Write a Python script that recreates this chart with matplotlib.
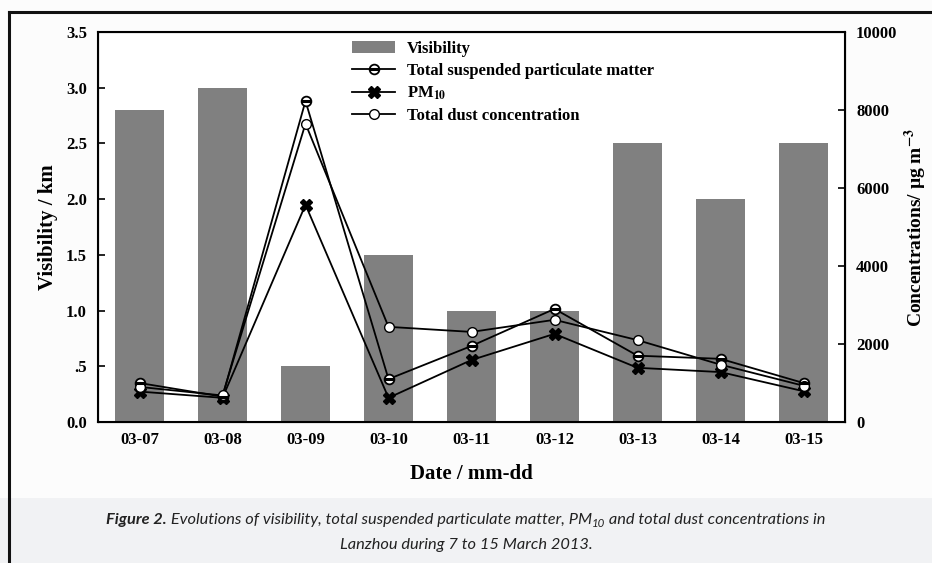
import numpy as np
import matplotlib
matplotlib.use("Agg")
import matplotlib.pyplot as plt
from matplotlib.lines import Line2D
from matplotlib.patches import Patch

# data
dates = ["03-07", "03-08", "03-09", "03-10", "03-11", "03-12", "03-13", "03-14", "03-15"]
visibility = [2.8, 3.0, 0.5, 1.5, 1.0, 1.0, 2.5, 2.0, 2.5]          # km
tsp = [1000, 650, 8230, 1100, 1950, 2900, 1700, 1620, 1000]          # ug m-3
pm10 = [780, 620, 5570, 620, 1590, 2260, 1390, 1280, 790]
dust = [900, 680, 7650, 2440, 2310, 2620, 2100, 1470, 930]

plt.rcParams['font.family'] = ['Liberation Serif', 'DejaVu Serif']
plt.rcParams['font.weight'] = 'bold'
plt.rcParams['mathtext.fontset'] = 'stix'

fig = plt.figure(figsize=(9.32, 5.63), dpi=100)
fig.patch.set_facecolor('#fcfcfc')

# caption band and frame
fig.patches.append(plt.Rectangle((0, 0), 1, 1 - 498 / 563, transform=fig.transFigure,
                                 facecolor='#f1f2f4', edgecolor='none', zorder=0))
fig.add_artist(Line2D([9 / 932, 1], [1 - 12 / 563] * 2, color='#111111', lw=2.2))
fig.add_artist(Line2D([9 / 932] * 2, [0, 1 - 12 / 563], color='#111111', lw=2.2))

ax = fig.add_axes([98 / 932, 1 - 422 / 563, 747 / 932, 390 / 563])
ax.set_facecolor('white')
x = np.arange(len(dates))
ax.bar(x, visibility, width=0.6, color='#808080', zorder=1)
ax.set_xlim(-0.5, len(dates) - 0.5)
ax.set_ylim(0, 3.5)
ax.set_yticks(np.arange(0, 3.51, 0.5))
ax.set_yticklabels(["0.0", ".5", "1.0", "1.5", "2.0", "2.5", "3.0", "3.5"])
ax.set_xticks(x)
ax.set_xticklabels(dates)
ax.tick_params(axis='x', length=0, pad=7, labelsize=12)
ax.tick_params(axis='y', direction='in', length=5, width=1.2, labelsize=12, pad=8)
ax.set_xlabel("Date / mm-dd", fontsize=15, fontweight='bold', labelpad=12)
ax.set_ylabel("Visibility / km", fontsize=15, fontweight='bold', labelpad=6)
for s in ax.spines.values():
    s.set_linewidth(1.5)

ax2 = ax.twinx()
ax2.set_ylim(0, 10000)
ax2.set_yticks(np.arange(0, 10001, 2000))
ax2.tick_params(axis='y', direction='in', length=5, width=1.2, labelsize=12, pad=8)
ax2.set_ylabel(r"Concentrations/ µg m$^{\mathbf{-3}}$", fontsize=14, fontweight='bold', labelpad=4)

lw = 1.3
ax2.plot(x, tsp, color='black', lw=lw, marker='o', ms=7, mfc='white', mec='black', mew=1.3, zorder=3)
ax2.plot(x, tsp, ls='none', marker='_', ms=7, mec='black', mew=2.2, zorder=4)
ax2.plot(x, pm10, color='black', lw=lw, marker='X', ms=8, mfc='black', mec='black', zorder=3)
ax2.plot(x, dust, color='black', lw=lw, marker='o', ms=7, mfc='white', mec='black', mew=1.0, zorder=3)

handles = [
    Patch(facecolor='#808080', edgecolor='none'),
    (Line2D([], [], color='black', lw=lw, marker='o', ms=7, mfc='white', mec='black', mew=1.3),
     Line2D([], [], ls='none', marker='_', ms=7, mec='black', mew=2.2)),
    Line2D([], [], color='black', lw=lw, marker='X', ms=8, mfc='black'),
    Line2D([], [], color='black', lw=lw, marker='o', ms=7, mfc='white', mec='black', mew=1.0),
]
labels = ["Visibility", "Total suspended particulate matter", r"PM$_{\mathbf{10}}$",
          "Total dust concentration"]
ax2.legend(handles, labels, loc='upper left', bbox_to_anchor=(0.32, 1.015), frameon=False,
           handlelength=2.6, handletextpad=0.7, labelspacing=0.35,
           prop={'weight': 'bold', 'size': 12})

# caption, pieced together so the first words can be bold
fig.canvas.draw()
rend = fig.canvas.get_renderer()
cap_font = 'Lato'
cap_size = 11.8
pieces = [
    ("Figure 2.", 'bold', cap_size, 0),
    (" Evolutions of visibility, total suspended particulate matter, PM", 'normal', cap_size, 0),
    ("10", 'normal', cap_size * 0.7, -3),
    (" and total dust concentrations in", 'normal', cap_size, 0),
]
widths = []
for s, w, sz, dy in pieces:
    t = fig.text(0, 0, s, family=cap_font, style='italic', weight=w, size=sz)
    widths.append(t.get_window_extent(rend).width)
    t.remove()
xpos = (932 - sum(widths)) / 2
y1 = 563 - 524
for (s, w, sz, dy), wd in zip(pieces, widths):
    fig.text(xpos / 932, (y1 + dy) / 563, s, family=cap_font, style='italic', weight=w,
             size=sz, va='baseline', color='#222222')
    xpos += wd
fig.text(0.5, (563 - 549) / 563, "Lanzhou during 7 to 15 March 2013.", family=cap_font,
         style='italic', weight='normal', size=cap_size, ha='center', va='baseline', color='#222222')

fig.savefig("out.png", dpi=100, facecolor=fig.get_facecolor())
